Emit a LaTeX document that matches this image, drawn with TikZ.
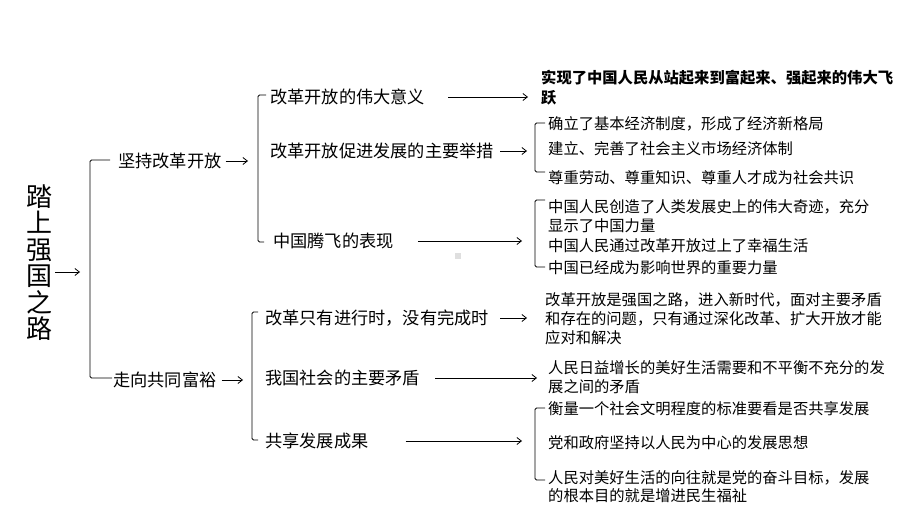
\documentclass[tikz,border=0pt]{standalone}
\usepackage{fontspec}
\setmainfont{Noto Sans CJK SC}
\usetikzlibrary{arrows.meta}
\begin{document}
\begin{tikzpicture}[x=1pt,y=-1pt,
  ttl/.style={inner sep=0pt, align=center, font=\fontsize{26}{26.5}\selectfont},
  lvla/.style={anchor=west, inner sep=0pt, font=\fontsize{17.2}{20}\selectfont},
  lvlc/.style={anchor=west, inner sep=0pt, align=left, font=\fontsize{15.3}{19}\selectfont},
  arr/.style={-{Straight Barb[length=4.5pt,width=7pt]}, line width=0.8pt},
  brk/.style={line width=0.9pt, rounded corners=1.5pt}]
\useasboundingbox (0,0) rectangle (920,518);
\fill[white] (0,0) rectangle (920,518);

% title
\node[ttl] (title) at (40,262.5) {踏\\上\\强\\国\\之\\路};
\coordinate (ta) at (55,272);
\coordinate (b1) at (90,270);
\draw[arr, shorten >=10pt] (ta) -- (ta -| b1);
\draw[brk] (110,160) -- (90,160) -- (90,378) -- (112,378);

% level 1
\node[lvla] (k1) at (118,161) {坚持改革开放};
\node[lvla] (k2) at (113,380) {走向共同富裕};
\coordinate (b2) at (258,160);
\coordinate (b5) at (252,380);
\draw[arr, shorten <=4pt, shorten >=10pt] (k1.east) -- (k1.east -| b2);
\draw[arr, shorten <=5pt, shorten >=9pt] (k2.east) -- (k2.east -| b5);
\draw[brk] (266,95) -- (258,95) -- (258,242) -- (264,242);
\draw[brk] (258,312) -- (252,312) -- (252,440) -- (258,440);

% level 2
\node[lvla] (m1) at (270,97) {改革开放的伟大意义};
\node[lvla] (m2) at (270,151) {改革开放促进发展的主要举措};
\node[lvla] (m3) at (273,241) {中国腾飞的表现};
\node[lvla] (m4) at (265,318) {改革只有进行时，没有完成时};
\node[lvla] (m5) at (265,378) {我国社会的主要矛盾};
\node[lvla] (m6) at (265,441) {共享发展成果};

% level 3
\node[lvlc, font=\fontsize{15.3}{20}\selectfont\bfseries] (r1) at (541,88) {实现了中国人民从站起来到富起来、强起来的伟大飞\\跃};
\node[lvlc] (r2) at (548,124) {确立了基本经济制度，形成了经济新格局};
\node[lvlc] (r3) at (548,149) {建立、完善了社会主义市场经济体制};
\node[lvlc] (r4) at (548,178) {尊重劳动、尊重知识、尊重人才成为社会共识};
\node[lvlc, font=\fontsize{15.3}{18.5}\selectfont] (r5a) at (548,216) {中国人民创造了人类发展史上的伟大奇迹，充分\\显示了中国力量};
\node[lvlc] (r5b) at (548,246) {中国人民通过改革开放过上了幸福生活};
\node[lvlc] (r5c) at (548,268) {中国已经成为影响世界的重要力量};
\node[lvlc] (r6) at (545,319) {改革开放是强国之路，进入新时代，面对主要矛盾\\和存在的问题，只有通过深化改革、扩大开放才能\\应对和解决};
\node[lvlc] (r7) at (548,377.5) {人民日益增长的美好生活需要和不平衡不充分的发\\展之间的矛盾};
\node[lvlc] (r8a) at (548,409) {衡量一个社会文明程度的标准要看是否共享发展};
\node[lvlc] (r8b) at (548,443) {党和政府坚持以人民为中心的发展思想};
\node[lvlc, font=\fontsize{15.3}{18}\selectfont] (r8c) at (548,487) {人民对美好生活的向往就是党的奋斗目标，发展\\的根本目的就是增进民生福祉};

% brackets level 3
\coordinate (b3) at (535,147);
\coordinate (b4) at (535,234);
\coordinate (b6) at (535,444);
\draw[brk] (545,123) -- (535,123) -- (535,172) -- (545,172);
\draw[brk] (545,200) -- (535,200) -- (535,267) -- (545,267);
\draw[brk] (545,408) -- (535,408) -- (535,480) -- (545,480);

% arrows level 2 -> 3
\draw[arr, shorten <=23pt, shorten >=13pt] (m1.east) -- (m1.east -| r1.west);
\draw[arr, shorten <=6pt, shorten >=8pt] (m2.east) -- (m2.east -| b3);
\draw[arr, shorten <=24pt, shorten >=13pt] (m3.east) -- (m3.east -| b4);
\draw[arr, shorten <=11pt, shorten >=18pt] (m4.east) -- (m4.east -| r6.west);
\draw[arr, shorten <=15pt, shorten >=11pt] (m5.east) -- (m5.east -| r7.west);
\draw[arr, shorten <=37pt, shorten >=13pt] (m6.east) -- (m6.east -| b6);

% stray mark
\fill[gray!25] (455,253) rectangle (461,259);
\end{tikzpicture}
\end{document}
